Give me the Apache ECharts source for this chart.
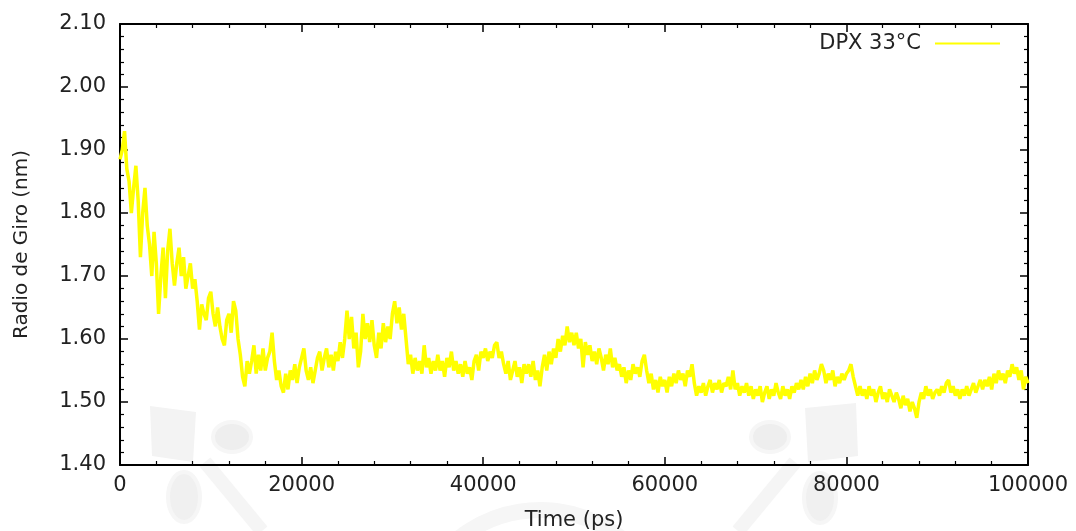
<!DOCTYPE html>
<html>
<head>
<meta charset="utf-8">
<script src="https://cdn.jsdelivr.net/npm/echarts@6/dist/echarts.min.js"></script>
<style>
  html, body { margin: 0; padding: 0; background: #fff; }
  #chart { width: 1076px; height: 531px; }
</style>
</head>
<body>
<div id="chart"></div>
<script>
// radius of gyration, one reading every 250 ps
const step = 250
const rg = [
  1.885, 1.90, 1.93, 1.87, 1.85, 1.80, 1.84, 1.875, 1.82, 1.73,
  1.80, 1.84, 1.78, 1.75, 1.70, 1.77, 1.72, 1.64, 1.70, 1.745,
  1.665, 1.74, 1.775, 1.72, 1.685, 1.72, 1.745, 1.70, 1.73, 1.68,
  1.70, 1.72, 1.68, 1.695, 1.66, 1.615, 1.655, 1.64, 1.63, 1.665,
  1.675, 1.64, 1.62, 1.65, 1.62, 1.60, 1.59, 1.63, 1.64, 1.61,
  1.66, 1.645, 1.60, 1.575, 1.54, 1.525, 1.565, 1.545, 1.565, 1.59,
  1.545, 1.575, 1.55, 1.585, 1.55, 1.57, 1.58, 1.61, 1.565, 1.535,
  1.55, 1.525, 1.515, 1.545, 1.52, 1.55, 1.535, 1.56, 1.53, 1.555,
  1.57, 1.585, 1.55, 1.535, 1.555, 1.53, 1.55, 1.57, 1.58, 1.55,
  1.57, 1.585, 1.555, 1.575, 1.55, 1.58, 1.565, 1.595, 1.57, 1.60,
  1.645, 1.60, 1.635, 1.585, 1.61, 1.555, 1.58, 1.64, 1.60, 1.625,
  1.595, 1.63, 1.59, 1.57, 1.61, 1.585, 1.625, 1.595, 1.62, 1.60,
  1.64, 1.66, 1.625, 1.65, 1.615, 1.64, 1.60, 1.56, 1.575, 1.545,
  1.57, 1.55, 1.565, 1.545, 1.59, 1.555, 1.57, 1.545, 1.565, 1.55,
  1.575, 1.55, 1.565, 1.54, 1.57, 1.555, 1.58, 1.55, 1.565, 1.545,
  1.56, 1.54, 1.565, 1.545, 1.555, 1.535, 1.565, 1.575, 1.55, 1.58,
  1.57, 1.585, 1.565, 1.58, 1.57, 1.59, 1.595, 1.57, 1.58, 1.56,
  1.545, 1.565, 1.535, 1.55, 1.565, 1.54, 1.555, 1.53, 1.56, 1.545,
  1.56, 1.54, 1.565, 1.535, 1.55, 1.525, 1.555, 1.575, 1.55, 1.58,
  1.56, 1.585, 1.57, 1.60, 1.58, 1.605, 1.59, 1.62, 1.595, 1.61,
  1.59, 1.61, 1.585, 1.60, 1.555, 1.595, 1.575, 1.59, 1.565, 1.58,
  1.56, 1.585, 1.57, 1.55, 1.575, 1.56, 1.585, 1.555, 1.57, 1.55,
  1.56, 1.54, 1.555, 1.53, 1.55, 1.535, 1.56, 1.545, 1.555, 1.54,
  1.565, 1.575, 1.55, 1.53, 1.545, 1.52, 1.535, 1.515, 1.54, 1.525,
  1.535, 1.515, 1.54, 1.525, 1.545, 1.53, 1.55, 1.535, 1.545, 1.525,
  1.55, 1.54, 1.56, 1.53, 1.51, 1.525, 1.515, 1.53, 1.51, 1.525,
  1.535, 1.515, 1.53, 1.52, 1.535, 1.515, 1.53, 1.525, 1.54, 1.52,
  1.55, 1.52, 1.53, 1.51, 1.525, 1.515, 1.53, 1.51, 1.525, 1.505,
  1.52, 1.51, 1.525, 1.50, 1.515, 1.525, 1.505, 1.52, 1.51, 1.53,
  1.515, 1.505, 1.525, 1.51, 1.52, 1.505, 1.525, 1.515, 1.53, 1.52,
  1.535, 1.52, 1.54, 1.525, 1.545, 1.53, 1.55, 1.535, 1.545, 1.56,
  1.55, 1.53, 1.545, 1.535, 1.55, 1.525, 1.54, 1.53, 1.545, 1.535,
  1.545, 1.55, 1.56, 1.54, 1.525, 1.51, 1.525, 1.51, 1.52, 1.505,
  1.525, 1.51, 1.52, 1.50, 1.515, 1.525, 1.505, 1.515, 1.50, 1.52,
  1.51, 1.50, 1.515, 1.505, 1.49, 1.51, 1.495, 1.505, 1.485, 1.50,
  1.49, 1.475, 1.50, 1.515, 1.505, 1.525, 1.51, 1.52, 1.505, 1.515,
  1.52, 1.51, 1.525, 1.515, 1.53, 1.535, 1.515, 1.525, 1.51, 1.52,
  1.505, 1.52, 1.51, 1.525, 1.51, 1.52, 1.53, 1.515, 1.525, 1.535,
  1.52, 1.535, 1.525, 1.54, 1.52, 1.545, 1.53, 1.55, 1.535, 1.545,
  1.53, 1.55, 1.54, 1.56, 1.545, 1.555, 1.535, 1.55, 1.52, 1.54,
  1.53
]
const seriesName = 'DPX 33°C'
const xTicks = [0, 20000, 40000, 60000, 80000, 100000]

const chart = echarts.init(document.getElementById('chart'))
const txt = '#222'
const font = 'DejaVu Sans'
const fs = 21

// common look for the four frame sides (gnuplot style: ticks inward, mirrored)
function frameAxis(extra) {
  return Object.assign({
    axisLine: { show: true, onZero: false, lineStyle: { color: '#000', width: 2 } },
    axisTick: { show: true, inside: true, length: 8, lineStyle: { color: '#000', width: 1.5 } },
    minorTick: { show: true, splitNumber: 5, length: 4, lineStyle: { color: '#000', width: 1.2 } },
    splitLine: { show: false },
    minorSplitLine: { show: false }
  }, extra)
}

const xRange = { type: 'value', min: xTicks[0], max: xTicks[xTicks.length - 1], interval: 20000 }
const yRange = { type: 'value', min: 1.4, max: 2.1, interval: 0.1 }

const option = {
  animation: false,
  backgroundColor: '#fff',
  textStyle: { fontFamily: font },
  grid: { left: 120, right: 48, top: 24, bottom: 66, outerBoundsMode: 'none', containLabel: false },
  legend: {
    data: [seriesName],
    right: 71,
    top: 28,
    align: 'right',
    icon: 'rect',
    itemWidth: 65,
    itemHeight: 2,
    textStyle: { fontSize: fs, color: txt, fontFamily: font, padding: [0, 9, 0, 0] }
  },
  graphic: [
    // faint watermark left
    { type: 'polygon', z: 0, shape: { points: [[150, 406], [196, 412], [193, 462], [152, 456]] }, style: { fill: '#f3f3f3' } },
    { type: 'ellipse', z: 0, shape: { cx: 232, cy: 437, rx: 19, ry: 15 }, style: { fill: '#eeeeee', stroke: '#f6f6f6', lineWidth: 4 } },
    { type: 'ellipse', z: 0, shape: { cx: 184, cy: 497, rx: 16, ry: 25 }, style: { fill: '#f0f0f0', stroke: '#f6f6f6', lineWidth: 4 } },
    { type: 'line', z: 0, shape: { x1: 205, y1: 462, x2: 262, y2: 531 }, style: { stroke: '#f5f5f5', lineWidth: 14 } },
    // faint watermark right
    { type: 'polygon', z: 0, shape: { points: [[805, 408], [856, 403], [858, 456], [808, 462]] }, style: { fill: '#f3f3f3' } },
    { type: 'ellipse', z: 0, shape: { cx: 770, cy: 437, rx: 19, ry: 15 }, style: { fill: '#eeeeee', stroke: '#f6f6f6', lineWidth: 4 } },
    { type: 'ellipse', z: 0, shape: { cx: 820, cy: 498, rx: 16, ry: 25 }, style: { fill: '#f0f0f0', stroke: '#f6f6f6', lineWidth: 4 } },
    { type: 'line', z: 0, shape: { x1: 795, y1: 462, x2: 738, y2: 531 }, style: { stroke: '#f5f5f5', lineWidth: 14 } },
    // faint arc at the bottom middle
    { type: 'arc', z: 0, shape: { cx: 540, cy: 640, r: 130, startAngle: Math.PI * 1.2, endAngle: Math.PI * 1.8 }, style: { stroke: '#f6f6f6', lineWidth: 16, fill: null } }
  ],
  xAxis: [
    frameAxis(Object.assign({}, xRange, {
      position: 'bottom',
      name: 'Time (ps)',
      nameLocation: 'middle',
      nameGap: 45,
      nameTextStyle: { fontSize: fs, color: txt, fontFamily: font },
      axisLabel: { fontSize: fs, color: txt, fontFamily: font, margin: 10, formatter: v => String(v) }
    })),
    frameAxis(Object.assign({}, xRange, {
      position: 'top',
      axisLabel: { show: false }
    }))
  ],
  yAxis: [
    frameAxis(Object.assign({}, yRange, {
      position: 'left',
      name: 'Radio de Giro (nm)',
      nameLocation: 'middle',
      nameGap: 88,
      nameTextStyle: { fontSize: fs - 1, color: txt, fontFamily: font },
      axisLabel: { fontSize: fs, color: txt, fontFamily: font, margin: 14, formatter: v => v.toFixed(2) }
    })),
    frameAxis(Object.assign({}, yRange, {
      position: 'right',
      axisLabel: { show: false }
    }))
  ],
  series: [
    {
      name: seriesName,
      type: 'line',
      xAxisIndex: 0,
      yAxisIndex: 0,
      z: 5,
      showSymbol: false,
      symbol: 'none',
      data: rg.map((v, i) => [i * step, v]),
      lineStyle: { color: '#ffff00', width: 3.5 },
      itemStyle: { color: '#ffff00' }
    }
  ]
}

chart.setOption(option)
</script>
</body>
</html>
